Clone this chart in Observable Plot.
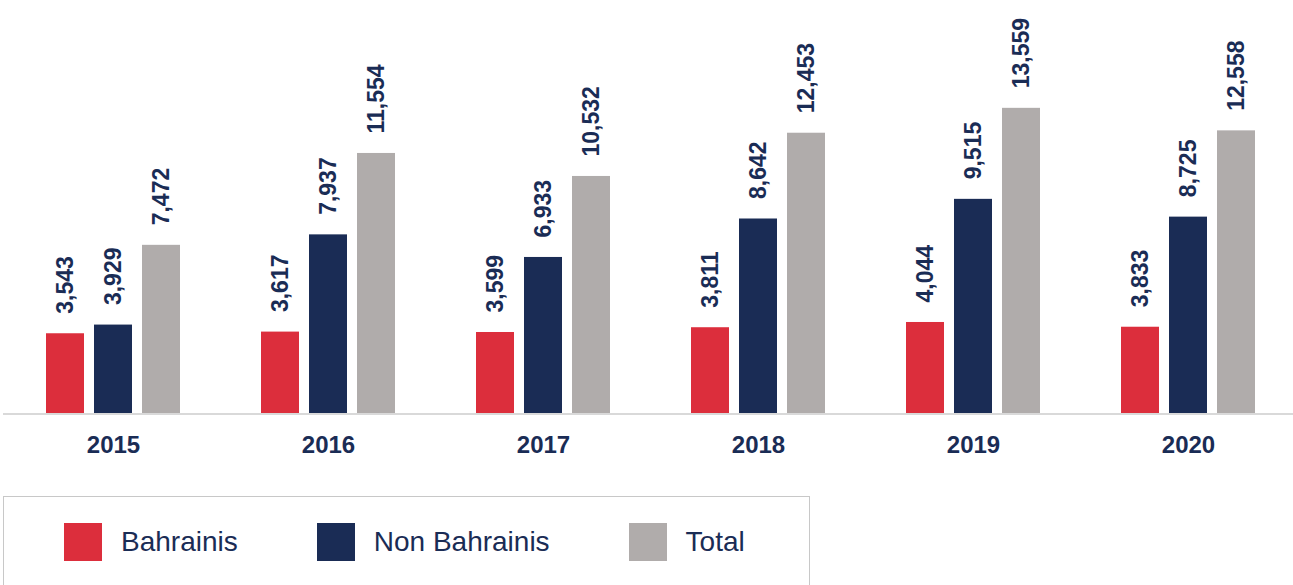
<!DOCTYPE html>
<html>
<head>
<meta charset="utf-8">
<script src="https://cdn.jsdelivr.net/npm/d3@7"></script>
<script src="https://cdn.jsdelivr.net/npm/@observablehq/plot@0.6"></script>
<style>
  html, body { margin: 0; padding: 0; background: #fff; }
  body { width: 1293px; height: 585px; overflow: hidden; position: relative; font-family: "Liberation Sans", Arial, sans-serif; }
  #chart { position: absolute; left: 0; top: 0; }
  #legend { position: absolute; left: 3px; top: 496px; width: 807px; height: 120px; border: 1px solid #c8c8c8; box-sizing: border-box; }
  #legend .items { position: absolute; left: 60px; top: 26px; display: flex; align-items: center; gap: 79px; }
  #legend .item { display: flex; align-items: center; }
  #legend .sw { width: 38px; height: 38px; margin-right: 19px; }
  #legend .lb { font-size: 28px; color: #1a2c55; font-weight: 400; line-height: 38px; }
</style>
</head>
<body>
<div id="chart"></div>
<div id="legend"><div class="items"></div></div>
<script>
const years = ["2015", "2016", "2017", "2018", "2019", "2020"];
const seriesNames = ["Bahrainis", "Non Bahrainis", "Total"];
const seriesColors = ["#dc2e3c", "#1a2c55", "#b0acab"];
const bahrainis = [3543, 3617, 3599, 3811, 4044, 3833];
const nonBahrainis = [3929, 7937, 6933, 8642, 9515, 8725];
const total = [7472, 11554, 10532, 12453, 13559, 12558];

const seriesValues = [bahrainis, nonBahrainis, total];
const data = [];
years.forEach((y, i) => {
  seriesNames.forEach((s, j) => {
    data.push({ year: y, series: s, value: seriesValues[j][i] });
  });
});

const fmt = d3.format(",");
const navy = "#1a2c55";

const chart = Plot.plot({
  width: 1293,
  height: 470,
  marginLeft: 0,
  marginRight: 0,
  marginTop: 0,
  marginBottom: 57,
  style: { fontFamily: "'Liberation Sans', Arial, sans-serif", background: "transparent" },
  fx: { domain: years, range: [4.5, 1297.5], paddingInner: 0.33, paddingOuter: 0.165, label: null, axis: null },
  x: { domain: seriesNames, paddingInner: 0.2, paddingOuter: 0.1, axis: null },
  y: { domain: [0, 18350], axis: null },
  color: { domain: seriesNames, range: seriesColors },
  marks: [
    Plot.barY(data, { fx: "year", x: "series", y: "value", fill: "series" }),
    Plot.ruleY([0], { stroke: "#d9d9d9", strokeWidth: 2, insetLeft: -38, insetRight: -38, shapeRendering: "crispEdges" }),
    Plot.text(data, {
      fx: "year", x: "series", y: "value",
      text: d => fmt(d.value),
      rotate: -90, textAnchor: "start", dy: -20,
      fontSize: 23, fontWeight: "bold", fill: navy
    }),
    Plot.axisFx({ anchor: "bottom", tickSize: 0, tickPadding: 22, fontSize: 24, fontWeight: "bold", fill: navy, label: null })
  ]
});
document.getElementById("chart").appendChild(chart);

const items = document.querySelector("#legend .items");
seriesNames.forEach((s, j) => {
  const it = document.createElement("div");
  it.className = "item";
  const sw = document.createElement("div");
  sw.className = "sw";
  sw.style.background = seriesColors[j];
  const lb = document.createElement("span");
  lb.className = "lb";
  lb.textContent = s;
  it.appendChild(sw);
  it.appendChild(lb);
  items.appendChild(it);
});
</script>
</body>
</html>
